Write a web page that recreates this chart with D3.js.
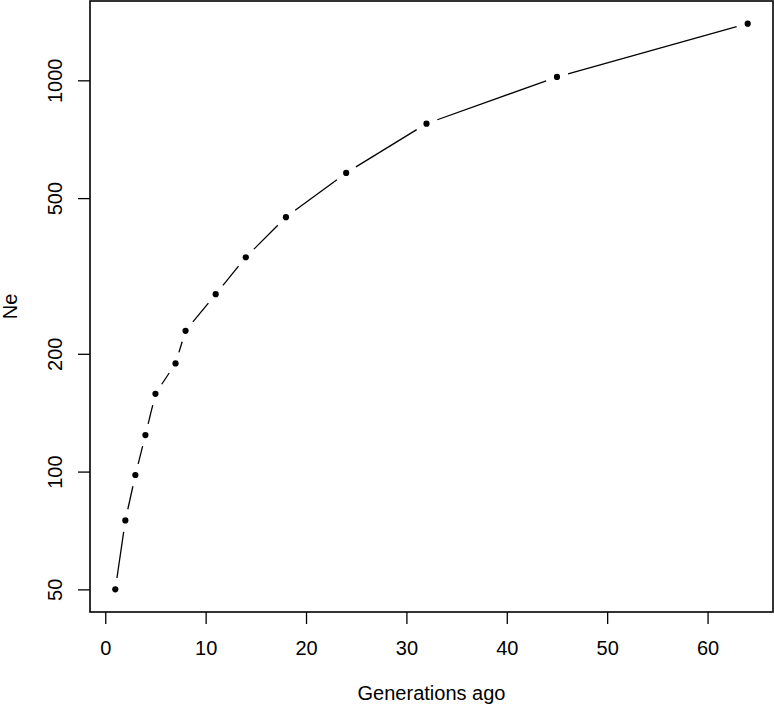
<!DOCTYPE html>
<html>
<head>
<meta charset="utf-8">
<script src="https://cdn.jsdelivr.net/npm/d3@7"></script>
<style>
  html, body { margin: 0; padding: 0; background: #fff; }
  svg { display: block; }
  text { font-family: "Liberation Sans", Arial, Helvetica, sans-serif; fill: #000; }
</style>
</head>
<body>
<svg id="chart" width="774" height="707"></svg>
<script>
// ---- data ----
const generations = [1, 2, 3, 4, 5, 7, 8, 11, 14, 18, 24, 32, 45, 64];
const ne = [50, 75, 98, 124, 158, 189, 229, 284, 353, 447, 580, 775, 1020, 1396];
const xTicks = [0, 10, 20, 30, 40, 50, 60];
const yTicks = [50, 100, 200, 500, 1000];
const xTitle = "Generations ago";
const yTitle = "Ne";

(function () {
  // ---- layout ----
  const plotL = 90, plotR = 773, plotT = 1, plotB = 612;
  const svg = d3.select("#chart");

  // R-style 4% axis extension
  const xmin = d3.min(generations), xmax = d3.max(generations);
  const xext = 0.04 * (xmax - xmin);
  const x = d3.scaleLinear().domain([xmin - xext, xmax + xext]).range([plotL, plotR]);

  const lmin = Math.log10(d3.min(ne)), lmax = Math.log10(d3.max(ne));
  const lext = 0.04 * (lmax - lmin);
  const y = d3.scaleLog().domain([Math.pow(10, lmin - lext), Math.pow(10, lmax + lext)]).range([plotB, plotT]);

  // box
  svg.append("rect")
    .attr("x", plotL).attr("y", plotT)
    .attr("width", plotR - plotL).attr("height", plotB - plotT)
    .attr("fill", "none").attr("stroke", "#000").attr("stroke-width", 1.6);

  // x axis
  const xAxis = d3.axisBottom(x).tickValues(xTicks).tickSize(12).tickFormat(d3.format("d"));
  const gx = svg.append("g").attr("transform", `translate(0,${plotB})`).call(xAxis);
  gx.select(".domain").remove();
  gx.selectAll("line").attr("stroke", "#000").attr("stroke-width", 1.3);
  gx.selectAll("text").attr("font-size", 20).attr("fill", "#000").attr("dy", "0.71em").attr("y", 29);

  // y axis
  const yAxis = d3.axisLeft(y).tickValues(yTicks).tickSize(12).tickFormat(d3.format("d"));
  const gy = svg.append("g").attr("transform", `translate(${plotL},0)`).call(yAxis);
  gy.select(".domain").remove();
  gy.selectAll("line").attr("stroke", "#000").attr("stroke-width", 1.3);
  gy.selectAll("text")
    .attr("font-size", 20).attr("fill", "#000")
    .attr("x", null).attr("dy", null)
    .attr("text-anchor", "middle")
    .attr("transform", "translate(-28,0) rotate(-90)");

  // titles
  svg.append("text")
    .attr("x", (plotL + plotR) / 2).attr("y", 700)
    .attr("text-anchor", "middle").attr("font-size", 20)
    .text(xTitle);
  svg.append("text")
    .attr("transform", `translate(17,${(plotT + plotB) / 2}) rotate(-90)`)
    .attr("text-anchor", "middle").attr("font-size", 20)
    .text(yTitle);

  // line segments with gaps (R type="b")
  const pts = generations.map((g, i) => [x(g), y(ne[i])]);
  const gap = 11.5;
  const segs = [];
  for (let i = 0; i < pts.length - 1; i++) {
    const [x0, y0] = pts[i], [x1, y1] = pts[i + 1];
    const dx = x1 - x0, dy = y1 - y0, len = Math.hypot(dx, dy);
    if (len > 2 * gap) {
      const ux = dx / len, uy = dy / len;
      segs.push([x0 + ux * gap, y0 + uy * gap, x1 - ux * gap, y1 - uy * gap]);
    }
  }
  svg.append("g").selectAll("line").data(segs).join("line")
    .attr("x1", d => d[0]).attr("y1", d => d[1])
    .attr("x2", d => d[2]).attr("y2", d => d[3])
    .attr("stroke", "#000").attr("stroke-width", 1.3);

  // points
  svg.append("g").selectAll("circle").data(generations).join("circle")
    .attr("cx", d => x(d))
    .attr("cy", (d, i) => y(ne[i]))
    .attr("r", 3.1)
    .attr("fill", "#000");
})();
</script>
</body>
</html>
